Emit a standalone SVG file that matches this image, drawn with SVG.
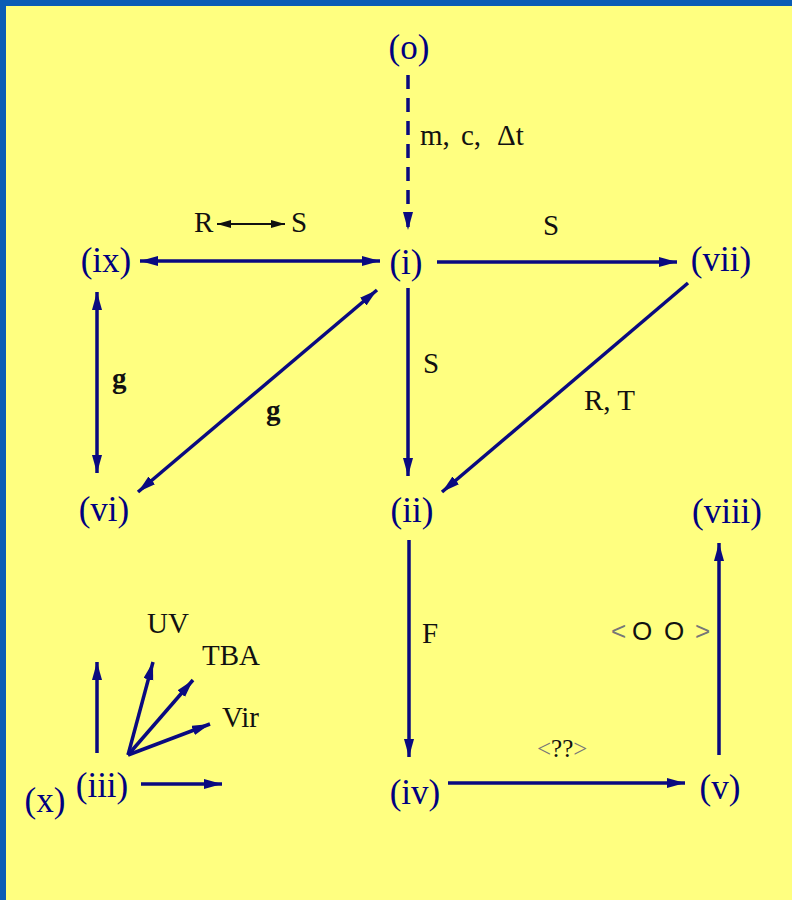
<svg xmlns="http://www.w3.org/2000/svg" width="792" height="900" viewBox="0 0 792 900" font-family="Liberation Serif, Times New Roman, DejaVu Serif, serif">
<style>
text{font-family:'Liberation Serif','Times New Roman','DejaVu Serif',serif}
.node{font-size:35px;fill:#000080;text-anchor:middle}
.lbl{font-size:29px;fill:#111}
.sans{font-family:'Liberation Sans',Arial,sans-serif}
.edge{stroke:#0a0a80;stroke-width:3.5;fill:none}
.thin{stroke:#111;stroke-width:2;fill:none}
.gray{fill:#777}
</style>
<defs>
<marker id="ah" markerUnits="userSpaceOnUse" markerWidth="20" markerHeight="12" refX="18" refY="5" orient="auto-start-reverse">
<path d="M0,0 L18,5 L0,10 z" fill="#0a0a80"/>
</marker>
<marker id="ahk" markerUnits="userSpaceOnUse" markerWidth="16" markerHeight="10" refX="14" refY="4" orient="auto-start-reverse">
<path d="M0,0 L14,4 L0,8 z" fill="#111"/>
</marker>
</defs>
<rect x="0" y="0" width="792" height="900" fill="#0b5cb5"/>
<rect x="6" y="6" width="786" height="894" fill="#ffff80"/>
<g id="connectors">
<path class="edge" d="M408,75 V230" stroke-dasharray="14,9" marker-end="url(#ah)"/>
<path class="edge" d="M140,261 H380" marker-start="url(#ah)" marker-end="url(#ah)"/>
<path class="edge" d="M437,262 H677" marker-end="url(#ah)"/>
<path class="edge" d="M688,283 L442,492" marker-end="url(#ah)"/>
<path class="edge" d="M408,288 V476" marker-end="url(#ah)"/>
<path class="edge" d="M138,492 L377,290" marker-start="url(#ah)" marker-end="url(#ah)"/>
<path class="edge" d="M97,292 V473" marker-start="url(#ah)" marker-end="url(#ah)"/>
<path class="edge" d="M409,540 V757" marker-end="url(#ah)"/>
<path class="edge" d="M448,783 H685" marker-end="url(#ah)"/>
<path class="edge" d="M719,755 V543" marker-end="url(#ah)"/>
<path class="edge" d="M97,753 V662" marker-end="url(#ah)"/>
<path class="edge" d="M128,755 L153,662" marker-end="url(#ah)"/>
<path class="edge" d="M128,755 L193,680" marker-end="url(#ah)"/>
<path class="edge" d="M128,755 L210,724" marker-end="url(#ah)"/>
<path class="edge" d="M141,784 H222" marker-end="url(#ah)"/>
<path class="thin" d="M217,224 H285" marker-start="url(#ahk)" marker-end="url(#ahk)"/>
</g>
<g id="labels">
<text class="lbl" x="420" y="145">m,<tspan x="461">c,</tspan><tspan x="497">Δt</tspan></text>
<text class="lbl" x="194" y="232">R</text>
<text class="lbl" x="291" y="232">S</text>
<text class="lbl" x="543" y="235">S</text>
<text class="lbl" x="423" y="373">S</text>
<text class="lbl" x="584" y="410">R, T</text>
<text class="lbl" x="112" y="388" style="font-weight:bold">g</text>
<text class="lbl" x="266" y="420" style="font-weight:bold">g</text>
<text class="lbl" x="422" y="643">F</text>
<text class="lbl" x="537" y="757" style="font-size:25px"><tspan class="gray">&lt;</tspan>??<tspan class="gray">&gt;</tspan></text>
<text class="lbl sans" y="640" style="font-size:26px"><tspan class="gray" x="611">&lt;</tspan><tspan x="632">O</tspan><tspan x="664">O</tspan><tspan class="gray" x="695">&gt;</tspan></text>
<text class="lbl" x="147" y="633">UV</text>
<text class="lbl" x="202" y="665">TBA</text>
<text class="lbl" x="222" y="727">Vir</text>
</g>
<g id="node-o"><text class="node" x="409" y="59">(o)</text></g>
<g id="node-i"><text class="node" x="406" y="274">(i)</text></g>
<g id="node-ix"><text class="node" x="106" y="272">(ix)</text></g>
<g id="node-vii"><text class="node" x="721" y="271">(vii)</text></g>
<g id="node-vi"><text class="node" x="104" y="521">(vi)</text></g>
<g id="node-ii"><text class="node" x="412" y="522">(ii)</text></g>
<g id="node-viii"><text class="node" x="727" y="523">(viii)</text></g>
<g id="node-iv"><text class="node" x="415" y="804">(iv)</text></g>
<g id="node-v"><text class="node" x="720" y="799">(v)</text></g>
<g id="node-iii"><text class="node" x="102" y="797">(iii)</text></g>
<g id="node-x"><text class="node" x="45" y="812">(x)</text></g>
</svg>
